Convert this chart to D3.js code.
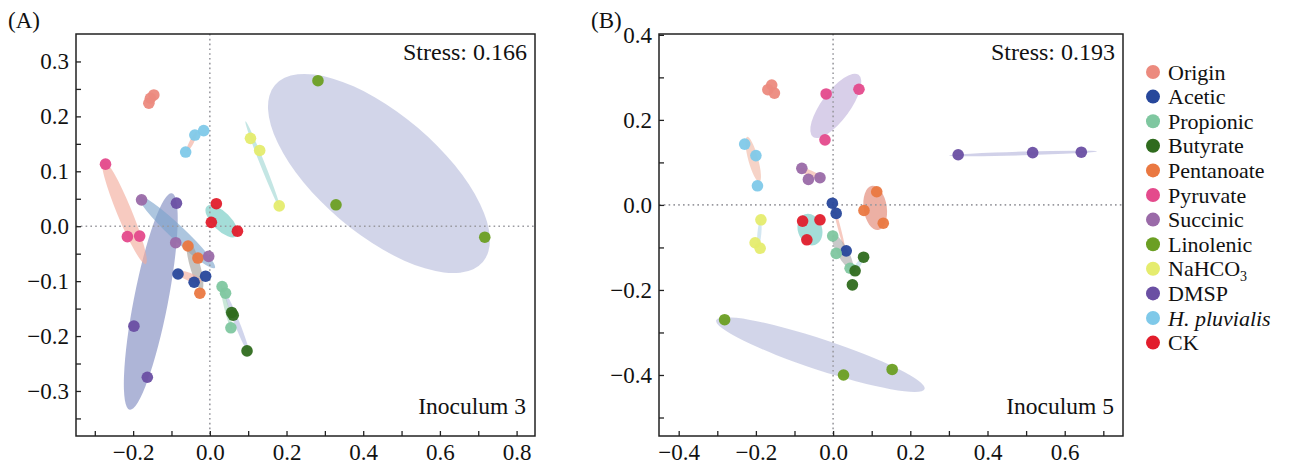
<!DOCTYPE html>
<html>
<head>
<meta charset="utf-8">
<script src="https://cdn.jsdelivr.net/npm/d3@7"></script>
<style>
    body { margin: 0; background: #fff; }
    svg text { font-family: "Liberation Serif", "Times New Roman", Times, Tinos, "DejaVu Serif", "Noto Serif", serif; fill: #111; }
</style>
</head>
<body>
<script>
// groups and colours
const groups = ["Origin", "Acetic", "Propionic", "Butyrate", "Pentanoate", "Pyruvate",
    "Succinic", "Linolenic", "NaHCO3", "DMSP", "H. pluvialis", "CK"];
const pointColours = ["#ec8a7e", "#27479b", "#7fc7a0", "#2f6b1e", "#ea7841", "#e44a8c",
    "#9a6aa8", "#6b9f23", "#e5ec6e", "#6a4fa3", "#7fc9e9", "#e21d2c"];

// NMDS scores, panel A (Inoculum 3): [group, NMDS1, NMDS2]
const pointsA = [
    ["Origin", -0.146, 0.239], ["Origin", -0.155, 0.233], ["Origin", -0.159, 0.224],
    ["Acetic", -0.083, -0.087], ["Acetic", -0.041, -0.102], ["Acetic", -0.011, -0.091],
    ["Propionic", 0.032, -0.110], ["Propionic", 0.041, -0.122], ["Propionic", 0.055, -0.185],
    ["Butyrate", 0.057, -0.157], ["Butyrate", 0.061, -0.162], ["Butyrate", 0.097, -0.227],
    ["Pentanoate", -0.057, -0.036], ["Pentanoate", -0.031, -0.058], ["Pentanoate", -0.026, -0.122],
    ["Pyruvate", -0.272, 0.113], ["Pyruvate", -0.215, -0.019], ["Pyruvate", -0.183, -0.018],
    ["Succinic", -0.178, 0.048], ["Succinic", -0.089, -0.030], ["Succinic", -0.003, -0.055],
    ["Linolenic", 0.282, 0.265], ["Linolenic", 0.329, 0.039], ["Linolenic", 0.717, -0.020],
    ["NaHCO3", 0.106, 0.160], ["NaHCO3", 0.130, 0.138], ["NaHCO3", 0.181, 0.037],
    ["DMSP", -0.087, 0.042], ["DMSP", -0.198, -0.182], ["DMSP", -0.163, -0.275],
    ["H. pluvialis", -0.063, 0.135], ["H. pluvialis", -0.039, 0.166], ["H. pluvialis", -0.016, 0.174],
    ["CK", 0.017, 0.041], ["CK", 0.004, 0.007], ["CK", 0.072, -0.009]
];

// panel B (Inoculum 5)
const pointsB = [
    ["Origin", -0.159, 0.282], ["Origin", -0.169, 0.271], ["Origin", -0.152, 0.263],
    ["Acetic", -0.002, 0.004], ["Acetic", 0.008, -0.020], ["Acetic", 0.034, -0.108],
    ["Propionic", -0.001, -0.073], ["Propionic", 0.008, -0.114], ["Propionic", 0.044, -0.149],
    ["Butyrate", 0.079, -0.123], ["Butyrate", 0.057, -0.155], ["Butyrate", 0.050, -0.188],
    ["Pentanoate", 0.113, 0.031], ["Pentanoate", 0.080, -0.013], ["Pentanoate", 0.130, -0.043],
    ["Pyruvate", -0.018, 0.261], ["Pyruvate", 0.067, 0.272], ["Pyruvate", -0.021, 0.153],
    ["Succinic", -0.081, 0.086], ["Succinic", -0.064, 0.060], ["Succinic", -0.034, 0.064],
    ["Linolenic", -0.281, -0.270], ["Linolenic", 0.027, -0.400], ["Linolenic", 0.153, -0.387],
    ["NaHCO3", -0.187, -0.035], ["NaHCO3", -0.202, -0.089], ["NaHCO3", -0.189, -0.102],
    ["DMSP", 0.324, 0.118], ["DMSP", 0.517, 0.123], ["DMSP", 0.643, 0.124],
    ["H. pluvialis", -0.229, 0.143], ["H. pluvialis", -0.200, 0.116], ["H. pluvialis", -0.196, 0.045],
    ["CK", -0.079, -0.038], ["CK", -0.034, -0.035], ["CK", -0.068, -0.082]
];

// confidence ellipses: [group, centre x, centre y, major-axis end x, major-axis end y, minor/major ratio, fill]
const ellipsesA = [
    ["Linolenic", 0.441, 0.096, 0.712, -0.065, 0.44, "#b6bcdc"],
    ["DMSP", -0.154, -0.137, -0.209, -0.334, 0.155, "#7c88bf"],
    ["Succinic", -0.086, -0.011, 0.013, -0.076, 0.14, "#7aa3cc"],
    ["Pyruvate", -0.223, 0.026, -0.167, -0.069, 0.13, "#f2a99a"],
    ["CK", 0.031, 0.009, 0.070, -0.018, 0.43, "#6cc8c0"],
    ["Pentanoate", -0.039, -0.071, -0.021, -0.116, 0.2, "#a09c98"],
    ["Acetic", -0.054, -0.092, -0.022, -0.101, 0.3, "#f2a99a"],
    ["Butyrate", 0.070, -0.175, 0.102, -0.231, 0.08, "#b4bce0"],
    ["Propionic", 0.043, -0.147, 0.057, -0.188, 0.1, "#a8d8c0"],
    ["NaHCO3", 0.138, 0.112, 0.183, 0.033, 0.05, "#9fd6d3"],
    ["H. pluvialis", -0.047, 0.154, -0.034, 0.172, 0.2, "#f2a99a"]
];
const ellipsesB = [
    ["Linolenic", -0.033, -0.352, 0.237, -0.433, 0.14, "#b6bcdc"],
    ["Pyruvate", 0.007, 0.233, 0.066, 0.306, 0.37, "#c0b2dc"],
    ["Pentanoate", 0.109, -0.007, 0.101, 0.045, 0.52, "#e0806c"],
    ["CK", -0.060, -0.058, -0.047, -0.094, 0.75, "#6cc8c0"],
    ["H. pluvialis", -0.207, 0.107, -0.191, 0.054, 0.21, "#f0b8a4"],
    ["Succinic", -0.057, 0.073, -0.028, 0.061, 0.25, "#f2b0a0"],
    ["Acetic", 0.015, -0.051, 0.031, -0.106, 0.06, "#f2a99a"],
    ["Propionic", 0.024, -0.110, 0.049, -0.151, 0.28, "#a8a8a8"],
    ["Butyrate", 0.063, -0.144, 0.080, -0.120, 0.2, "#b8d8ea"],
    ["NaHCO3", -0.191, -0.067, -0.194, -0.098, 0.15, "#b8d8ea"],
    ["DMSP", 0.492, 0.121, 0.684, 0.126, 0.025, "#b4b4dc"]
];

// ticks
const xTicksA = [-0.3, -0.2, -0.1, 0, 0.1, 0.2, 0.3, 0.4, 0.5, 0.6, 0.7, 0.8];
const xLabelsA = [-0.2, 0, 0.2, 0.4, 0.6, 0.8];
const yTicksA = [-0.35, -0.3, -0.25, -0.2, -0.15, -0.1, -0.05, 0, 0.05, 0.1, 0.15, 0.2, 0.25, 0.3];
const yLabelsA = [-0.3, -0.2, -0.1, 0, 0.1, 0.2, 0.3];
const xTicksB = [-0.4, -0.3, -0.2, -0.1, 0, 0.1, 0.2, 0.3, 0.4, 0.5, 0.6, 0.7];
const xLabelsB = [-0.4, -0.2, 0, 0.2, 0.4, 0.6];
const yTicksB = [-0.5, -0.4, -0.3, -0.2, -0.1, 0, 0.1, 0.2, 0.3, 0.4];
const yLabelsB = [-0.4, -0.2, 0, 0.2, 0.4];

const width = 1293;
const height = 467;
const serif = "'Liberation Serif', 'Times New Roman', Times, Tinos, 'DejaVu Serif', 'Noto Serif', serif";

const svg = d3.select("body")
    .append("svg")
    .attr("width", width)
    .attr("height", height)
    .attr("font-family", serif);

const colour = d3.scaleOrdinal().domain(groups).range(pointColours);
const fmt = d3.format(".1f");

function drawPanel(opt) {
    const x = d3.scaleLinear().domain(opt.xDomain).range([opt.left, opt.right]);
    const y = d3.scaleLinear().domain(opt.yDomain).range([opt.bottom, opt.top]);
    const g = svg.append("g").attr("class", "panel");

    const clipId = "clip_" + opt.tag;
    g.append("clipPath").attr("id", clipId)
        .append("rect")
        .attr("x", opt.left).attr("y", opt.top)
        .attr("width", opt.right - opt.left).attr("height", opt.bottom - opt.top);

    const plot = g.append("g").attr("clip-path", `url(#${clipId})`);

    // ellipses
    plot.append("g")
        .selectAll("ellipse")
        .data(opt.ellipses)
        .join("ellipse")
        .each(function (d) {
            const cx = x(d[1]), cy = y(d[2]);
            const dx = x(d[3]) - cx, dy = y(d[4]) - cy;
            const a = Math.hypot(dx, dy);
            const ang = Math.atan2(dy, dx) * 180 / Math.PI;
            d3.select(this)
                .attr("cx", cx).attr("cy", cy)
                .attr("rx", a).attr("ry", Math.max(a * d[5], 1.2))
                .attr("transform", `rotate(${ang},${cx},${cy})`);
        })
        .attr("fill", d => d[6])
        .attr("fill-opacity", 0.62);

    // zero lines
    plot.append("line")
        .attr("x1", opt.left).attr("x2", opt.right)
        .attr("y1", y(0)).attr("y2", y(0))
        .attr("stroke", "#9a9aa0").attr("stroke-width", 1.6)
        .attr("stroke-dasharray", "1.6,3.2");
    plot.append("line")
        .attr("x1", x(0)).attr("x2", x(0))
        .attr("y1", opt.top).attr("y2", opt.bottom)
        .attr("stroke", "#9a9aa0").attr("stroke-width", 1.6)
        .attr("stroke-dasharray", "1.6,3.2");

    // points
    plot.append("g")
        .selectAll("circle")
        .data(opt.points)
        .join("circle")
        .attr("cx", d => x(d[1]))
        .attr("cy", d => y(d[2]))
        .attr("r", 5.8)
        .attr("fill", d => colour(d[0]))
        .attr("fill-opacity", 0.95);

    // axes, ticks pointing inside
    const isLabel = list => d => list.some(v => Math.abs(v - d) < 1e-9) ? fmt(d) : "";
    const xAxis = g.append("g")
        .attr("transform", `translate(0,${opt.bottom})`)
        .call(d3.axisBottom(x).tickValues(opt.xTicks).tickFormat(isLabel(opt.xLabels))
            .tickSizeInner(-5).tickSizeOuter(0).tickPadding(8));
    const yAxis = g.append("g")
        .attr("transform", `translate(${opt.left},0)`)
        .call(d3.axisLeft(y).tickValues(opt.yTicks).tickFormat(isLabel(opt.yLabels))
            .tickSizeInner(-5).tickSizeOuter(0).tickPadding(7));
    [xAxis, yAxis].forEach(ax => {
        ax.attr("font-family", serif).attr("font-size", 23);
        ax.select(".domain").remove();
        ax.selectAll(".tick line").attr("stroke", "#222").attr("stroke-width", 1.3);
        ax.selectAll("text").attr("fill", "#111");
    });

    // frame
    g.append("rect")
        .attr("x", opt.left).attr("y", opt.top)
        .attr("width", opt.right - opt.left).attr("height", opt.bottom - opt.top)
        .attr("fill", "none").attr("stroke", "#222").attr("stroke-width", 1.5);

    g.append("text")
        .attr("x", opt.left - 68).attr("y", 28)
        .attr("font-size", 23)
        .text(opt.panel);
    g.append("text")
        .attr("x", opt.right - 8).attr("y", opt.top + 26)
        .attr("text-anchor", "end")
        .attr("font-size", 24)
        .text(opt.stress);
    g.append("text")
        .attr("x", opt.right - 9).attr("y", opt.bottom - 22)
        .attr("text-anchor", "end")
        .attr("font-size", 23.5)
        .text(opt.inoculum);
}

drawPanel({
    tag: "A", panel: "(A)", stress: "Stress: 0.166", inoculum: "Inoculum 3",
    left: 76, right: 535, top: 34, bottom: 436,
    xDomain: [-0.349, 0.848], yDomain: [-0.382, 0.350],
    xTicks: xTicksA, xLabels: xLabelsA, yTicks: yTicksA, yLabels: yLabelsA,
    points: pointsA, ellipses: ellipsesA
});

drawPanel({
    tag: "B", panel: "(B)", stress: "Stress: 0.193", inoculum: "Inoculum 5",
    left: 659, right: 1123, top: 34, bottom: 436,
    xDomain: [-0.451, 0.751], yDomain: [-0.5435, 0.402],
    xTicks: xTicksB, xLabels: xLabelsB, yTicks: yTicksB, yLabels: yLabelsB,
    points: pointsB, ellipses: ellipsesB
});

// legend
const legend = svg.append("g").attr("id", "legend");
const item = legend.selectAll("g")
    .data(groups)
    .join("g")
    .attr("transform", (d, i) => `translate(1153,${72 + i * 24.6})`);
item.append("circle")
    .attr("r", 7)
    .attr("fill", d => colour(d));
item.append("text")
    .attr("x", 15)
    .attr("y", 7.5)
    .attr("font-size", 22)
    .each(function (d) {
        const t = d3.select(this);
        if (d === "NaHCO3") {
            t.append("tspan").text("NaHCO");
            t.append("tspan").attr("dy", 5).attr("font-size", 14).text("3");
        } else if (d === "H. pluvialis") {
            t.attr("font-style", "italic").text(d);
        } else {
            t.text(d);
        }
    });
</script>
</body>
</html>
